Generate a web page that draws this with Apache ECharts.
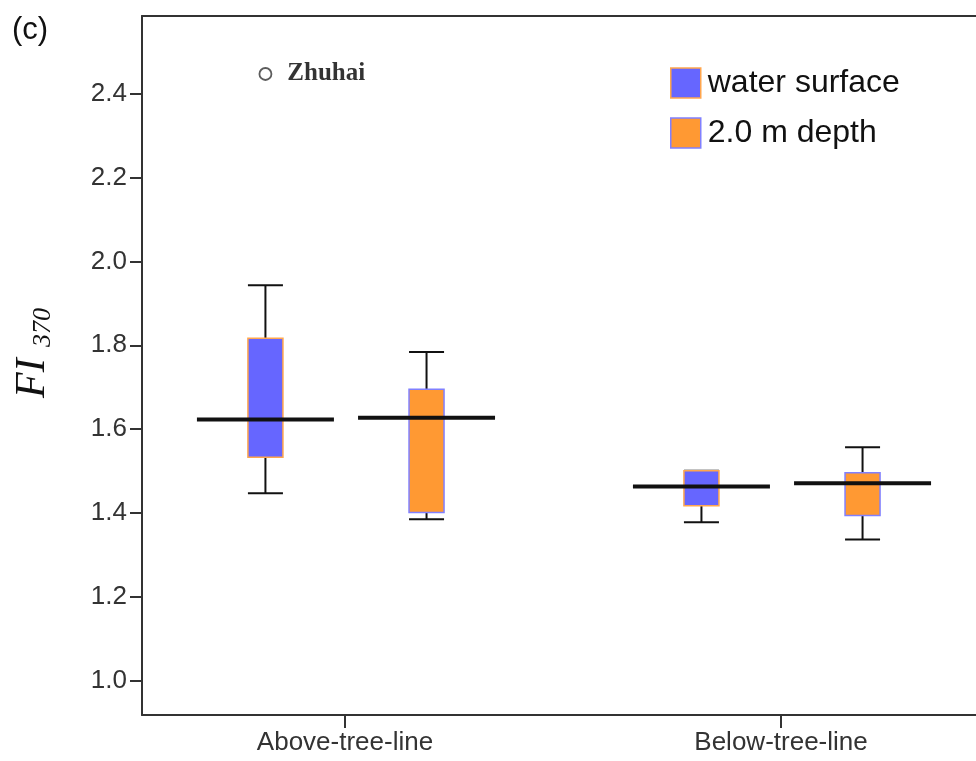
<!DOCTYPE html>
<html>
<head>
<meta charset="utf-8">
<script src="https://cdn.jsdelivr.net/npm/echarts@6/dist/echarts.min.js"></script>
<style>
  html, body { margin: 0; padding: 0; background: #fff; }
  #chart { width: 976px; height: 761px; }
</style>
</head>
<body>
<div id="chart"></div>
<script>
// ---- data ----
const categories = ['Above-tree-line', 'Below-tree-line'];
const seriesNames = ['water surface', '2.0 m depth'];

const waterMin    = [1.447, 1.378];
const waterQ1     = [1.533, 1.417];
const waterMedian = [1.623, 1.463];
const waterQ3     = [1.817, 1.501];
const waterMax    = [1.943, 1.501];

const depthMin    = [1.385, 1.337];
const depthQ1     = [1.401, 1.394];
const depthMedian = [1.627, 1.471];
const depthQ3     = [1.695, 1.496];
const depthMax    = [1.784, 1.557];

const outlierCategory = [0];
const outlierValue = [2.447];
const outlierLabel = ['Zhuhai'];

const yTicks = [1.0, 1.2, 1.4, 1.6, 1.8, 2.0, 2.2, 2.4];
const xTicks = [0, 1];

// ---- layout constants ----
const WATER_OFFSET = -0.1825;
const DEPTH_OFFSET = 0.187;
const BOX_W = 0.0803;
const MED_W = 0.3142;
const X_MIN = -0.4656, X_MAX = 1.4472;
const Y_MIN = 0.9182, Y_MAX = 2.5853;

function rows(mn, q1, md, q3, mx) {
  return categories.map((c, i) => [i, mn[i], q1[i], md[i], q3[i], mx[i]]);
}

function makeRenderer(offset, fill, stroke) {
  return function (params, api) {
    const x = api.value(0) + offset;
    const pMin = api.coord([x, api.value(1)]);
    const pQ1 = api.coord([x, api.value(2)]);
    const pMed = api.coord([x, api.value(3)]);
    const pQ3 = api.coord([x, api.value(4)]);
    const pMax = api.coord([x, api.value(5)]);
    const bw = api.size([BOX_W, 0])[0];
    const mw = api.size([MED_W, 0])[0];
    const cx = pMed[0];
    const lineStyle = { stroke: '#111', lineWidth: 2 };
    return {
      type: 'group',
      children: [
        { type: 'line', shape: { x1: cx, y1: pQ3[1], x2: cx, y2: pMax[1] }, style: lineStyle },
        { type: 'line', shape: { x1: cx, y1: pQ1[1], x2: cx, y2: pMin[1] }, style: lineStyle },
        { type: 'line', shape: { x1: cx - bw / 2, y1: pMax[1], x2: cx + bw / 2, y2: pMax[1] }, style: lineStyle },
        { type: 'line', shape: { x1: cx - bw / 2, y1: pMin[1], x2: cx + bw / 2, y2: pMin[1] }, style: lineStyle },
        { type: 'rect', shape: { x: cx - bw / 2, y: pQ3[1], width: bw, height: pQ1[1] - pQ3[1] },
          style: { fill: fill, stroke: stroke, lineWidth: 1.5 } },
        { type: 'line', shape: { x1: cx - mw / 2, y1: pMed[1], x2: cx + mw / 2, y2: pMed[1] },
          style: { stroke: '#111', lineWidth: 4 } }
      ]
    };
  };
}

const BLUE = '#6666ff';
const ORANGE = '#ff9933';
const AXIS_FONT = 'Liberation Sans, Arial, sans-serif';

const chart = echarts.init(document.getElementById('chart'), null, { renderer: 'canvas' });

const option = {
  animation: false,
  backgroundColor: '#ffffff',
  grid: { left: 142, top: 16, right: 0, height: 699, show: false },
  xAxis: [
    {
      type: 'value', min: X_MIN, max: X_MAX, position: 'bottom',
      axisLine: { show: true, onZero: false, lineStyle: { color: '#333', width: 2 } },
      axisTick: { show: true, customValues: xTicks, length: 13, lineStyle: { color: '#333', width: 2 } },
      axisLabel: {
        customValues: xTicks, margin: 15,
        formatter: v => categories[Math.round(v)],
        color: '#333', fontSize: 26, fontFamily: AXIS_FONT
      },
      splitLine: { show: false }
    },
    {
      type: 'value', min: X_MIN, max: X_MAX, position: 'top',
      axisLine: { show: true, onZero: false, lineStyle: { color: '#333', width: 2 } },
      axisTick: { show: false }, axisLabel: { show: false }, splitLine: { show: false }
    }
  ],
  yAxis: {
    type: 'value', min: Y_MIN, max: Y_MAX,
    axisLine: { show: true, onZero: false, lineStyle: { color: '#333', width: 2 } },
    axisTick: { show: true, customValues: yTicks, length: 12, lineStyle: { color: '#333', width: 2 } },
    axisLabel: {
      customValues: yTicks, margin: 15,
      formatter: v => v.toFixed(1),
      color: '#333', fontSize: 26, fontFamily: AXIS_FONT
    },
    splitLine: { show: false }
  },
  legend: {
    orient: 'vertical', left: 665, top: 62, itemGap: 18,
    itemWidth: 30, itemHeight: 30,
    textStyle: { fontSize: 32, color: '#111', fontFamily: AXIS_FONT, padding: [0, 0, 0, 2] },
    selectedMode: false,
    data: [
      { name: seriesNames[0], icon: 'rect', itemStyle: { color: BLUE, borderColor: '#ffa64d', borderWidth: 1.5 } },
      { name: seriesNames[1], icon: 'rect', itemStyle: { color: ORANGE, borderColor: '#8080ff', borderWidth: 1.5 } }
    ]
  },
  graphic: [
    { type: 'text', left: 12, top: 15, style: { text: '(c)', font: '31px "Liberation Sans", Arial, sans-serif', fill: '#111' } },
    { type: 'text', x: 33, y: 398, rotation: Math.PI / 2,
      style: { text: 'FI', font: 'italic 42px "Liberation Serif", "Times New Roman", serif', fill: '#111',
               textAlign: 'left', textVerticalAlign: 'middle' } },
    { type: 'text', x: 43.5, y: 347, rotation: Math.PI / 2,
      style: { text: '370', font: 'italic 26px "Liberation Serif", "Times New Roman", serif', fill: '#111',
               textAlign: 'left', textVerticalAlign: 'middle' } }
  ],
  series: [
    {
      name: seriesNames[0], type: 'custom', silent: true,
      itemStyle: { color: BLUE },
      encode: { x: 0, y: [1, 2, 3, 4, 5] },
      renderItem: makeRenderer(WATER_OFFSET, BLUE, '#ffa64d'),
      data: rows(waterMin, waterQ1, waterMedian, waterQ3, waterMax)
    },
    {
      name: seriesNames[1], type: 'custom', silent: true,
      itemStyle: { color: ORANGE },
      encode: { x: 0, y: [1, 2, 3, 4, 5] },
      renderItem: makeRenderer(DEPTH_OFFSET, ORANGE, '#8080ff'),
      data: rows(depthMin, depthQ1, depthMedian, depthQ3, depthMax)
    },
    {
      name: 'outlier', type: 'scatter', silent: true,
      symbol: 'circle', symbolSize: 12,
      itemStyle: { color: '#fff', borderColor: '#333', borderWidth: 1.8 },
      label: {
        show: true, position: 'right', distance: 15,
        formatter: p => p.name,
        color: '#000', fontSize: 25, fontWeight: 'bold',
        fontFamily: '"Liberation Serif", "Times New Roman", serif'
      },
      data: outlierCategory.map((c, i) => ({ name: outlierLabel[i], value: [c + WATER_OFFSET, outlierValue[i]] }))
    }
  ]
};
chart.setOption(option);
</script>
</body>
</html>
